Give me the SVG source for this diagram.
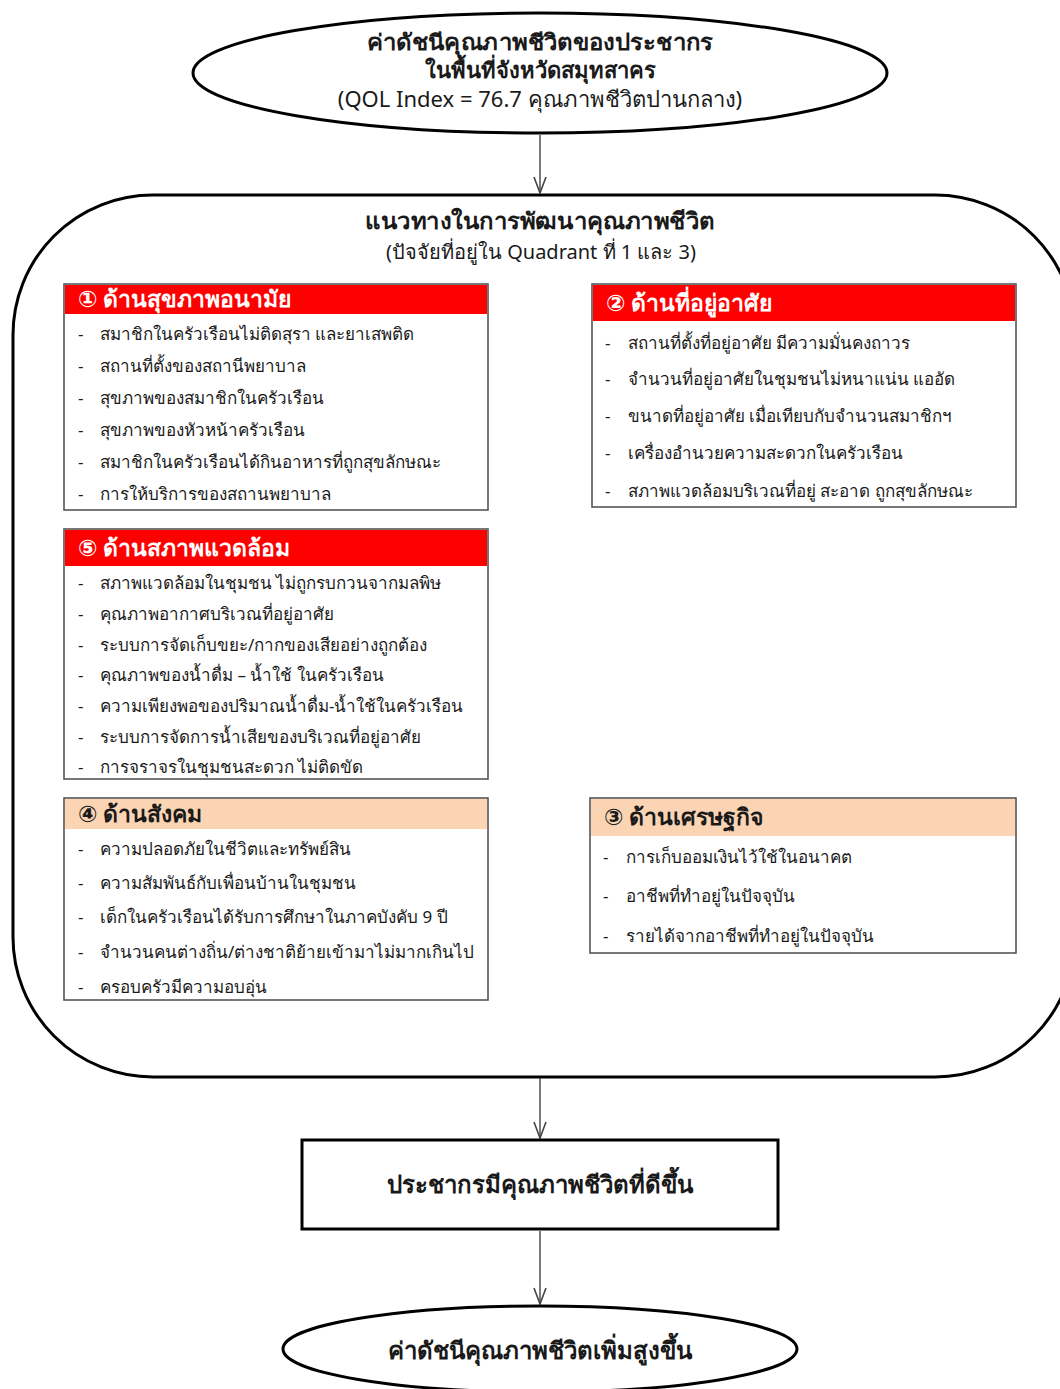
<svg xmlns="http://www.w3.org/2000/svg" width="1060" height="1389" viewBox="0 0 1060 1389">
<defs>
<style>
text{font-family:Tahoma,"Noto Sans","DejaVu Sans",sans-serif;fill:#1a1a1a}
.t{font-size:22px;font-weight:bold;text-anchor:middle}
.t2{font-size:24px;font-weight:bold;text-anchor:middle}
.s{font-size:20px;text-anchor:middle}
.h{font-size:23px;font-weight:bold}
.hw{fill:#fff}
.i{font-size:17px}
.box{fill:#fff;stroke:#555;stroke-width:1.6}
.big{fill:#fff;stroke:#000;stroke-width:3}
.red{fill:#ff0000}
.peach{fill:#fbd4b4}
.conn{stroke:#444;stroke-width:1.4;fill:none}
</style>
<marker id="arr" viewBox="0 0 18 14" refX="17" refY="7" markerWidth="18" markerHeight="14" markerUnits="userSpaceOnUse" orient="auto">
<path d="M1 1 L17 7 L1 13" fill="none" stroke="#444" stroke-width="1.6"/>
</marker>
</defs>
<rect width="1060" height="1389" fill="#fff"/>

<g id="frame">
<rect class="big" x="13" y="195" width="1062" height="882" rx="140" ry="140"/>
<text class="t2" x="540" y="229" style="font-size:23px" textLength="350" lengthAdjust="spacingAndGlyphs">แนวทางในการพัฒนาคุณภาพชีวิต</text>
<text class="s" x="541" y="259">(ปัจจัยที่อยู่ใน Quadrant ที่ 1 และ 3)</text>
</g>

<g id="connectors">
<line class="conn" x1="540" y1="135" x2="540" y2="193" marker-end="url(#arr)"/>
<line class="conn" x1="540" y1="1078" x2="540" y2="1138" marker-end="url(#arr)"/>
<line class="conn" x1="540" y1="1231" x2="540" y2="1304" marker-end="url(#arr)"/>
</g>

<g id="start">
<ellipse class="big" cx="540" cy="73" rx="347" ry="60"/>
<text class="t" x="540" y="50" textLength="346" lengthAdjust="spacingAndGlyphs">ค่าดัชนีคุณภาพชีวิตของประชากร</text>
<text class="t" x="540" y="78">ในพื้นที่จังหวัดสมุทสาคร</text>
<text class="s" x="540" y="107" style="font-size:22px">(QOL Index = 76.7 คุณภาพชีวิตปานกลาง)</text>
</g>

<g id="health">
<rect class="box" x="64" y="284" width="424" height="226"/>
<rect class="red" x="65" y="285" width="422" height="29"/>
<text class="h hw" x="78" y="307">① ด้านสุขภาพอนามัย</text>
<g class="i">
<text x="78" y="340">-</text><text x="100" y="340">สมาชิกในครัวเรือนไม่ติดสุรา และยาเสพติด</text>
<text x="78" y="372">-</text><text x="100" y="372">สถานที่ตั้งของสถานีพยาบาล</text>
<text x="78" y="404">-</text><text x="100" y="404">สุขภาพของสมาชิกในครัวเรือน</text>
<text x="78" y="436">-</text><text x="100" y="436">สุขภาพของหัวหน้าครัวเรือน</text>
<text x="78" y="468">-</text><text x="100" y="468">สมาชิกในครัวเรือนได้กินอาหารที่ถูกสุขลักษณะ</text>
<text x="78" y="500">-</text><text x="100" y="500">การให้บริการของสถานพยาบาล</text>
</g>
</g>

<g id="housing">
<rect class="box" x="592" y="284" width="424" height="223"/>
<rect class="red" x="593" y="285" width="422" height="36"/>
<text class="h hw" x="606" y="311">② ด้านที่อยู่อาศัย</text>
<g class="i">
<text x="605" y="349">-</text><text x="628" y="349">สถานที่ตั้งที่อยู่อาศัย มีความมั่นคงถาวร</text>
<text x="605" y="385">-</text><text x="628" y="385">จำนวนที่อยู่อาศัยในชุมชนไม่หนาแน่น แออัด</text>
<text x="605" y="422">-</text><text x="628" y="422">ขนาดที่อยู่อาศัย เมื่อเทียบกับจำนวนสมาชิกฯ</text>
<text x="605" y="459">-</text><text x="628" y="459">เครื่องอำนวยความสะดวกในครัวเรือน</text>
<text x="605" y="497">-</text><text x="628" y="497">สภาพแวดล้อมบริเวณที่อยู่ สะอาด ถูกสุขลักษณะ</text>
</g>
</g>

<g id="environment">
<rect class="box" x="64" y="529" width="424" height="250"/>
<rect class="red" x="65" y="530" width="422" height="36"/>
<text class="h hw" x="78" y="556">⑤ ด้านสภาพแวดล้อม</text>
<g class="i">
<text x="78" y="589">-</text><text x="100" y="589">สภาพแวดล้อมในชุมชน ไม่ถูกรบกวนจากมลพิษ</text>
<text x="78" y="620">-</text><text x="100" y="620">คุณภาพอากาศบริเวณที่อยู่อาศัย</text>
<text x="78" y="651">-</text><text x="100" y="651">ระบบการจัดเก็บขยะ/กากของเสียอย่างถูกต้อง</text>
<text x="78" y="681">-</text><text x="100" y="681">คุณภาพของน้ำดื่ม – น้ำใช้ ในครัวเรือน</text>
<text x="78" y="712">-</text><text x="100" y="712">ความเพียงพอของปริมาณน้ำดื่ม-น้ำใช้ในครัวเรือน</text>
<text x="78" y="743">-</text><text x="100" y="743">ระบบการจัดการน้ำเสียของบริเวณที่อยู่อาศัย</text>
<text x="78" y="773">-</text><text x="100" y="773">การจราจรในชุมชนสะดวก ไม่ติดขัด</text>
</g>
</g>

<g id="society">
<rect class="box" x="64" y="798" width="424" height="202"/>
<rect class="peach" x="65" y="799" width="422" height="30"/>
<text class="h" x="78" y="822">④ ด้านสังคม</text>
<g class="i">
<text x="78" y="855">-</text><text x="100" y="855">ความปลอดภัยในชีวิตและทรัพย์สิน</text>
<text x="78" y="889">-</text><text x="100" y="889">ความสัมพันธ์กับเพื่อนบ้านในชุมชน</text>
<text x="78" y="923">-</text><text x="100" y="923">เด็กในครัวเรือนได้รับการศึกษาในภาคบังคับ 9 ปี</text>
<text x="78" y="958">-</text><text x="100" y="958">จำนวนคนต่างถิ่น/ต่างชาติย้ายเข้ามาไม่มากเกินไป</text>
<text x="78" y="993">-</text><text x="100" y="993">ครอบครัวมีความอบอุ่น</text>
</g>
</g>

<g id="economy">
<rect class="box" x="590" y="798" width="426" height="155"/>
<rect class="peach" x="591" y="799" width="424" height="37"/>
<text class="h" x="604" y="825">③ ด้านเศรษฐกิจ</text>
<g class="i">
<text x="603" y="863">-</text><text x="626" y="863">การเก็บออมเงินไว้ใช้ในอนาคต</text>
<text x="603" y="902">-</text><text x="626" y="902">อาชีพที่ทำอยู่ในปัจจุบัน</text>
<text x="603" y="942">-</text><text x="626" y="942">รายได้จากอาชีพที่ทำอยู่ในปัจจุบัน</text>
</g>
</g>

<g id="result">
<rect x="302" y="1140" width="476" height="89" fill="#fff" stroke="#000" stroke-width="3"/>
<text class="t2" x="540" y="1193">ประชากรมีคุณภาพชีวิตที่ดีขึ้น</text>
</g>

<g id="end">
<ellipse class="big" cx="540" cy="1349" rx="257" ry="43"/>
<text class="t2" x="540" y="1359">ค่าดัชนีคุณภาพชีวิตเพิ่มสูงขึ้น</text>
</g>
</svg>
